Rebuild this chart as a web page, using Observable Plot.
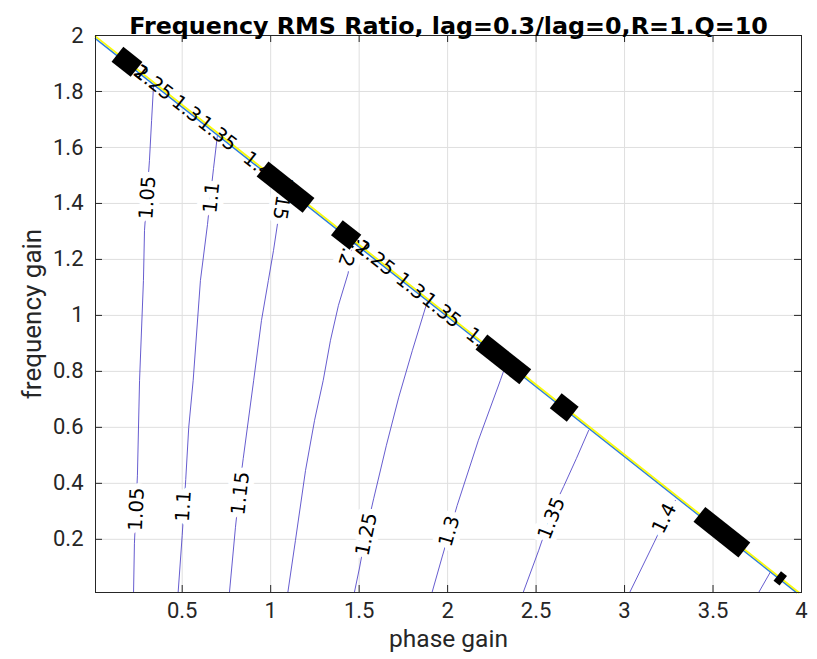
<!DOCTYPE html>
<html><head><meta charset="utf-8">
<script src="https://cdn.jsdelivr.net/npm/d3@7"></script>
<script src="https://cdn.jsdelivr.net/npm/@observablehq/plot@0.6"></script>
<style>
html,body{margin:0;padding:0;background:#fff;}
</style>
</head><body><div id="chart"></div>
<script>
const titleText = "Frequency RMS Ratio, lag=0.3/lag=0,R=1.Q=10";
const xLabel = "phase gain";
const yLabel = "frequency gain";
const xTicks = [0.5, 1, 1.5, 2, 2.5, 3, 3.5, 4];
const xTickLabels = ["0.5", "1", "1.5", "2", "2.5", "3", "3.5", "4"];
const yTicks = [0.2, 0.4, 0.6, 0.8, 1, 1.2, 1.4, 1.6, 1.8, 2];
const yTickLabels = ["0.2", "0.4", "0.6", "0.8", "1", "1.2", "1.4", "1.6", "1.8", "2"];

// contour levels and traced paths
const levels = [1.05, 1.1, 1.15, 1.2, 1.25, 1.3, 1.35, 1.4, 1.45];
const c105x = [0.225, 0.230, 0.247, 0.259, 0.281, 0.287, 0.315, 0.327, 0.338];
const c105y = [0.010, 0.186, 0.429, 0.768, 1.125, 1.304, 1.554, 1.696, 1.821];
const c110x = [0.477, 0.500, 0.520, 0.537, 0.562, 0.603, 0.643, 0.660, 0.677, 0.699];
const c110y = [0.010, 0.214, 0.414, 0.600, 0.768, 1.125, 1.325, 1.429, 1.525, 1.643];
const c115x = [0.767, 0.801, 0.829, 0.845, 0.904, 0.948, 0.987, 1.016, 1.044, 1.061];
const c115y = [0.010, 0.243, 0.411, 0.489, 0.768, 0.982, 1.125, 1.232, 1.350, 1.446];
const c120x = [1.097, 1.140, 1.197, 1.248, 1.297, 1.338, 1.383, 1.438, 1.462];
const c120y = [0.010, 0.196, 0.446, 0.625, 0.768, 0.911, 1.036, 1.151, 1.268];
const c125x = [1.473, 1.503, 1.541, 1.582, 1.654, 1.724, 1.801, 1.884];
const c125y = [0.010, 0.101, 0.232, 0.345, 0.536, 0.708, 0.875, 1.047];
const c130x = [1.912, 1.969, 2.054, 2.174, 2.298, 2.332];
const c130y = [0.010, 0.137, 0.321, 0.554, 0.768, 0.829];
const c135x = [2.427, 2.515, 2.592, 2.656, 2.728, 2.797];
const c135y = [0.010, 0.161, 0.304, 0.389, 0.489, 0.589];
const c140x = [3.029, 3.168, 3.213, 3.287];
const c140y = [0.010, 0.190, 0.250, 0.339];
const c145x = [3.758, 3.824];
const c145y = [0.010, 0.083];

// contour labels on the open field
const labelText = ["1.05", "1.05", "1.1", "1.1", "1.15", "1.15", "1.2", "1.25", "1.3", "1.35", "1.4"];
const labelX = [0.242, 0.304, 0.507, 0.666, 0.829, 1.067, 1.440, 1.541, 2.010, 2.587, 3.225];
const labelY = [0.307, 1.421, 0.318, 1.421, 0.364, 1.418, 1.230, 0.218, 0.229, 0.275, 0.275];
const labelAngle = [-87.5, -86, -86.3, -84, -83.6, 99, 107, -78.4, -73.8, -68.7, -63];

// crowded contour labels along the boundary
const edgeText = ["1.2", "1.25", "1.3", "1.35", "1.4", "1.2", "1.25", "1.3", "1.35", "1.4"];
const edgeX = [0.157, 0.242, 0.456, 0.603, 0.858, 1.411, 1.496, 1.722, 1.869, 2.117];
const edgeY = [1.921, 1.879, 1.772, 1.698, 1.571, 1.294, 1.252, 1.139, 1.066, 0.942];

// boundary contours
const yellowX = [0.01, 3.985];
const yellowY = [1.997, 0.01];
const blueX = [0.01, 3.972];
const blueY = [1.989, 0.01];

// black marker runs along the boundary
const runX1 = [0.134, 0.954, 1.374, 2.191, 2.611, 3.423, 3.863];
const runY1 = [1.933, 1.523, 1.313, 0.905, 0.695, 0.289, 0.069];
const runX2 = [0.242, 1.214, 1.479, 2.439, 2.707, 3.677, 3.897];
const runY2 = [1.879, 1.393, 1.261, 0.781, 0.647, 0.162, 0.052];

const cxs = [c105x, c110x, c115x, c120x, c125x, c130x, c135x, c140x, c145x];
const cys = [c105y, c110y, c115y, c120y, c125y, c130y, c135y, c140y, c145y];
const contourRows = [];
levels.forEach((lv, i) => cxs[i].forEach((x, j) => contourRows.push({level: lv, x, y: cys[i][j]})));
const labelIdx = labelText.map((_, i) => i);
const edgeIdx = edgeText.map((_, i) => i);
const runIdx = runX1.map((_, i) => i);
const bigRuns = runIdx.slice(0, 6);
const smallRuns = runIdx.slice(6);
const boundary = (xs, ys) => xs.map((x, i) => ({x, y: ys[i]}));

const chart = Plot.plot({
  width: 817, height: 659,
  marginLeft: 95, marginRight: 16, marginTop: 35, marginBottom: 67,
  x: {domain: [0.01, 4], label: null},
  y: {domain: [0.01, 2], label: null},
  style: {fontFamily: "Roboto, sans-serif", fontSize: "22px", color: "#262626", background: "white"},
  marks: [
    Plot.gridX(xTicks, {stroke: "#dfdfdf", strokeOpacity: 1}),
    Plot.gridY(yTicks, {stroke: "#dfdfdf", strokeOpacity: 1}),
    Plot.line(contourRows, {x: "x", y: "y", z: "level", stroke: "#4a3fc6", strokeWidth: 0.85}),
    Plot.text(labelIdx, {x: i => labelX[i], y: i => labelY[i], text: i => labelText[i], rotate: i => labelAngle[i],
      fontFamily: "DejaVu Sans", fontSize: 19.5, fill: "black", stroke: "white", strokeWidth: 12}),
    Plot.line(boundary(blueX, blueY), {x: "x", y: "y", stroke: "#2f7fe0", strokeWidth: 1.6}),
    Plot.line(boundary(yellowX, yellowY), {x: "x", y: "y", stroke: "#f9fb0e", strokeWidth: 1.8}),
    Plot.text(edgeIdx, {x: i => edgeX[i], y: i => edgeY[i], text: i => edgeText[i], rotate: 38.4,
      textAnchor: "start", fontFamily: "DejaVu Sans", fontSize: 19.5, fill: "black"}),
    Plot.link(bigRuns, {x1: i => runX1[i], y1: i => runY1[i], x2: i => runX2[i], y2: i => runY2[i],
      stroke: "black", strokeWidth: 19, strokeLinecap: "butt"}),
    Plot.link(smallRuns, {x1: i => runX1[i], y1: i => runY1[i], x2: i => runX2[i], y2: i => runY2[i],
      stroke: "black", strokeWidth: 12, strokeLinecap: "butt"}),
    Plot.frame({stroke: "#262626", strokeWidth: 1}),
    Plot.tickX(xTicks, {stroke: "#262626", insetTop: 550}),
    Plot.tickX(xTicks, {stroke: "#262626", insetBottom: 550}),
    Plot.tickY(yTicks, {stroke: "#262626", insetRight: 699}),
    Plot.tickY(yTicks, {stroke: "#262626", insetLeft: 699}),
    Plot.axisX(xTicks, {tickSize: 0, tickPadding: 10, tickFormat: d => xTickLabels[xTicks.indexOf(d)], fill: "#262626", label: null}),
    Plot.axisY(yTicks, {tickSize: 0, tickPadding: 12, tickFormat: d => yTickLabels[yTicks.indexOf(d)], fill: "#262626", label: null}),
    Plot.text([titleText], {frameAnchor: "top", dy: -18, fontWeight: "bold", fontSize: 23.8, fontFamily: "DejaVu Sans", fill: "black"}),
    Plot.text([xLabel], {frameAnchor: "bottom", dy: 54, textAnchor: "middle", fontSize: 24.5, fill: "#262626"}),
    Plot.text([yLabel], {frameAnchor: "left", dx: -63, rotate: -90, textAnchor: "middle", fontSize: 26, fill: "#262626"})
  ]
});
document.getElementById("chart").appendChild(chart);
</script>
</body></html>
